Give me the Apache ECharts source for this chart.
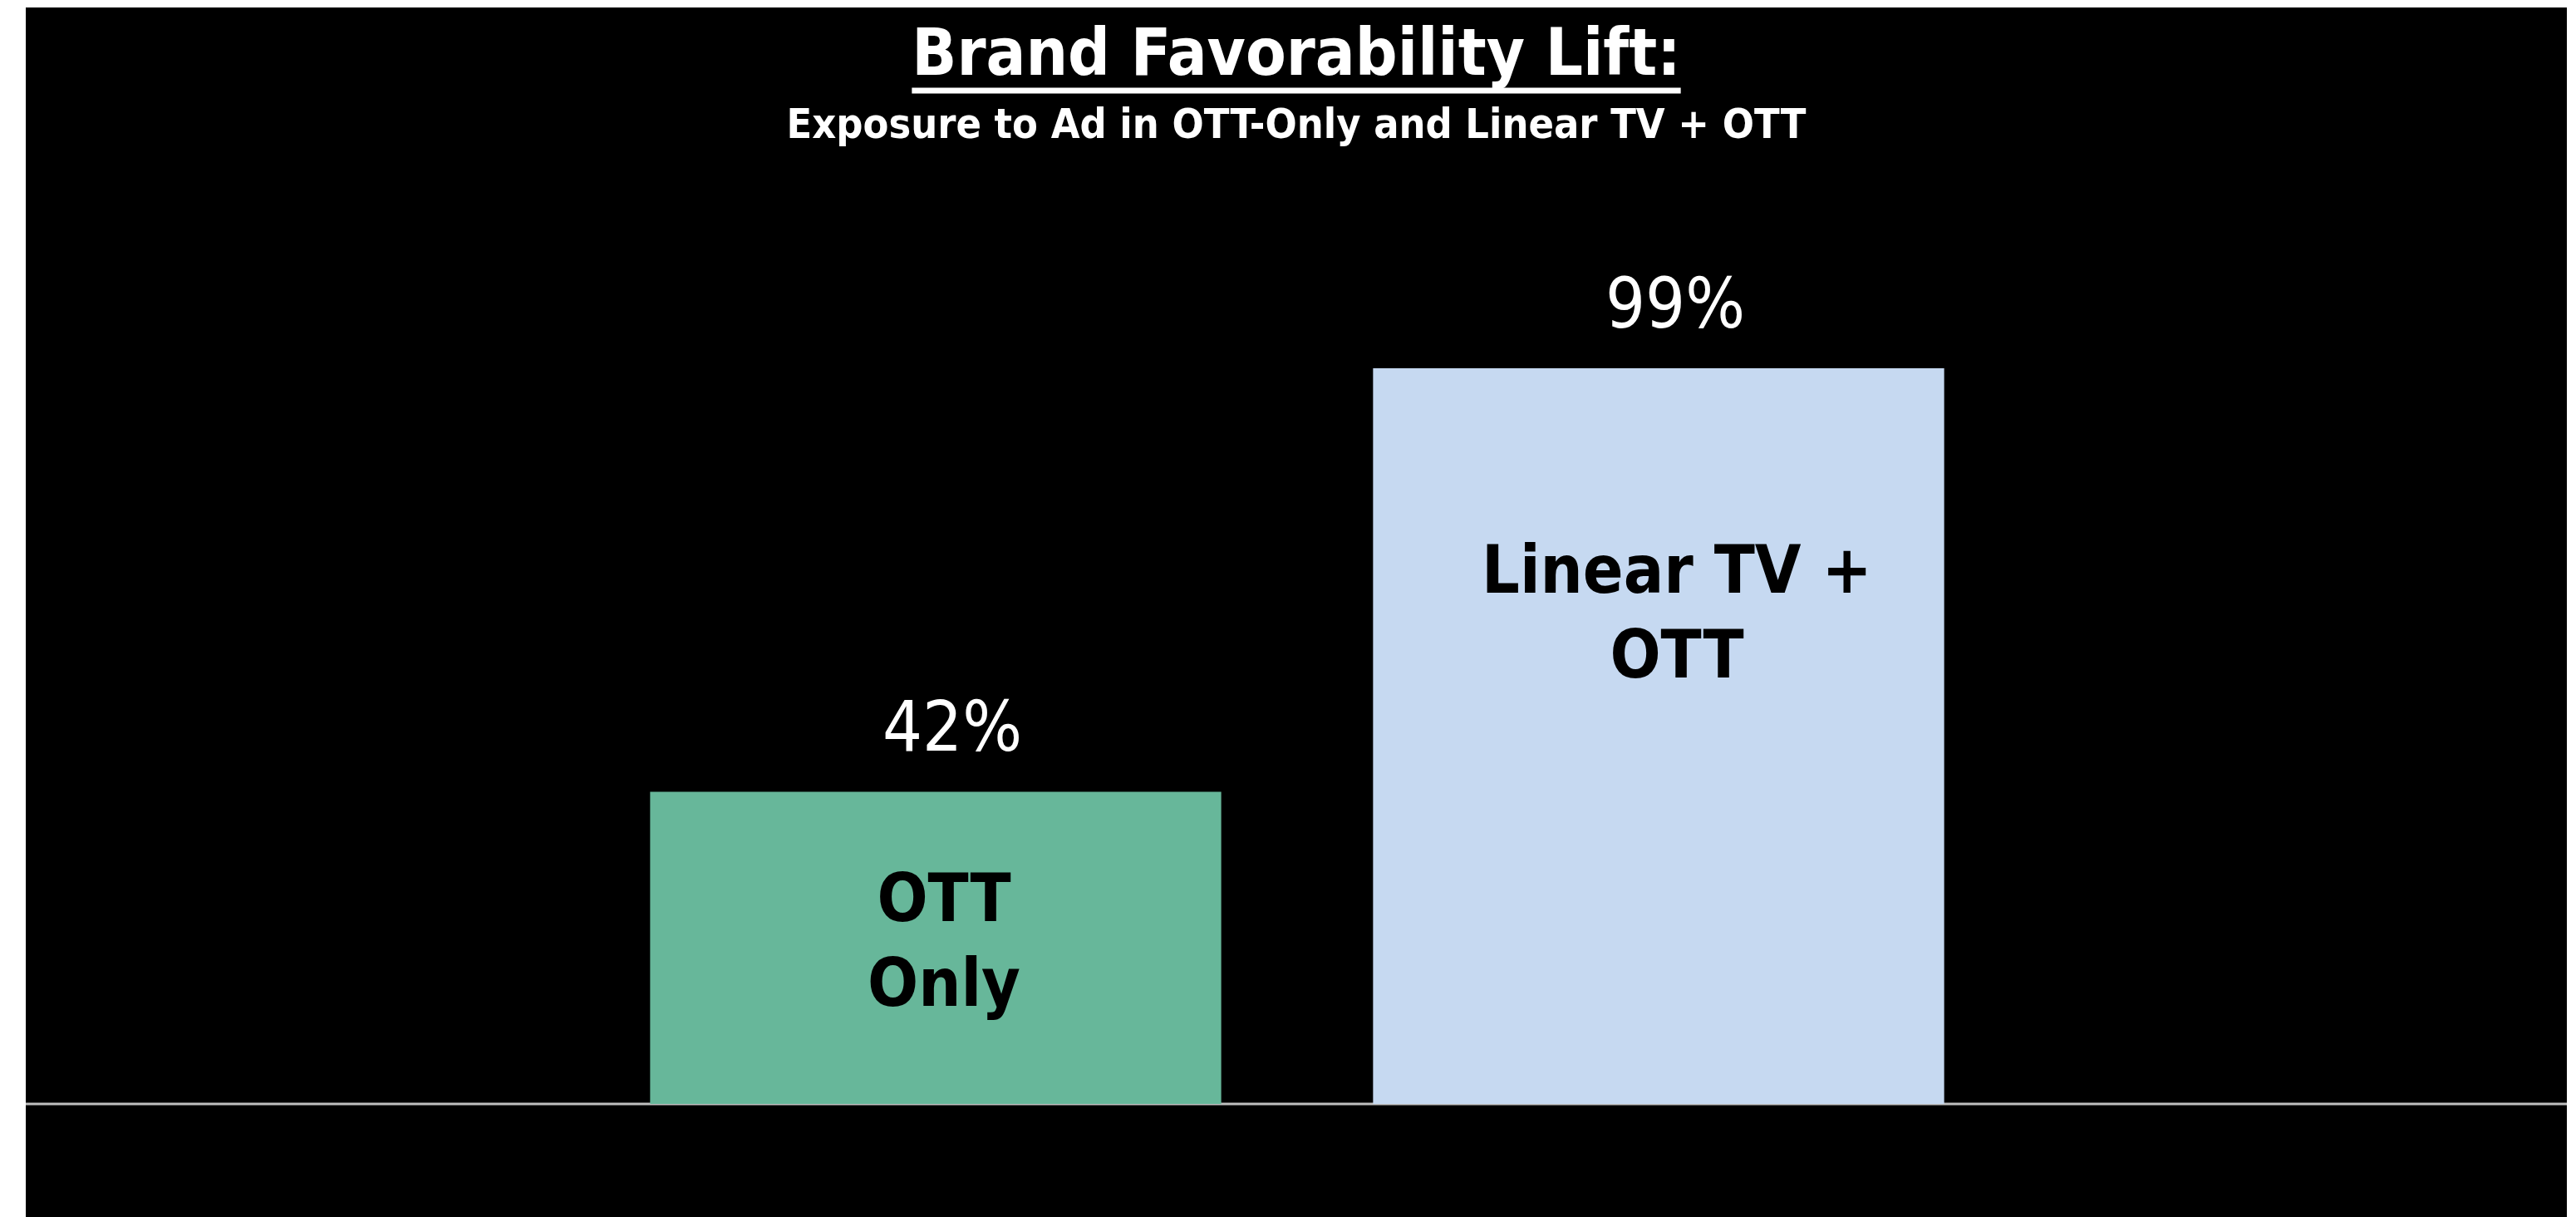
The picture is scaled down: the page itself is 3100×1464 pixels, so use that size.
<!DOCTYPE html>
<html>
<head>
<meta charset="utf-8">
<title>Brand Favorability Lift</title>
<script src="https://cdn.jsdelivr.net/npm/echarts@6/dist/echarts.min.js"></script>
<style>
  html, body { margin: 0; padding: 0; background: #fff; }
  #chart { position: absolute; left: 31px; top: 9px; width: 3058px; height: 1455px; }
</style>
</head>
<body>
<div id="chart"></div>
<script>
const titleText = 'Brand Favorability Lift:'
const subtitleText = 'Exposure to Ad in OTT-Only and Linear TV + OTT'
const categories = ['OTT Only', 'Linear TV + OTT']
const lift = [42, 99]
const barColors = ['#67B79A', '#C6D9F1']
// where the name sits inside each bar: px below the bar top, px right of centre
const nameDistance = [84, 198]
const nameShift = [10, 22]

const fontFamily = "'DejaVu Sans Condensed', 'DejaVu Sans', sans-serif"
const titleSize = 79

const chart = echarts.init(document.getElementById('chart'))

chart.setOption({
  backgroundColor: '#000',
  animation: false,
  title: {
    text: titleText,
    subtext: subtitleText,
    left: 'center',
    top: 16,
    itemGap: 19,
    textStyle: { color: '#fff', fontFamily, fontWeight: 'bold', fontSize: titleSize },
    subtextStyle: { color: '#fff', fontFamily, fontWeight: 'bold', fontSize: 50 }
  },
  grid: { left: 660, width: 1740, top: 425, height: 894 },
  xAxis: {
    type: 'category',
    data: categories,
    axisLine: { show: false },
    axisTick: { show: false },
    axisLabel: { show: false }
  },
  yAxis: {
    type: 'value',
    min: 0,
    max: 100,
    show: false,
    splitLine: { show: false }
  },
  series: [
    {
      // bars with the category name inside
      type: 'bar',
      barCategoryGap: '21%',
      data: lift.map((v, i) => ({
        value: v,
        itemStyle: { color: barColors[i] },
        label: { distance: nameDistance[i], offset: [nameShift[i], 0] }
      })),
      label: {
        show: true,
        position: 'insideTop',
        color: '#000',
        fontFamily,
        fontWeight: 'bold',
        fontSize: 80,
        lineHeight: 102,
        formatter: p => p.name === 'OTT Only' ? 'OTT\nOnly' : 'Linear TV +\nOTT'
      }
    },
    {
      // invisible twin that carries the value label above each bar
      type: 'bar',
      barGap: '-100%',
      barCategoryGap: '21%',
      silent: true,
      data: lift,
      itemStyle: { color: 'transparent' },
      label: {
        show: true,
        position: 'top',
        distance: 29,
        offset: [20, 0],
        color: '#fff',
        fontFamily,
        fontSize: 84,
        formatter: p => p.value + '%'
      }
    }
  ]
})

// baseline across the whole panel and the title underline
const baseY = chart.convertToPixel({ yAxisIndex: 0 }, 0)
const ctx = document.createElement('canvas').getContext('2d')
ctx.font = 'bold ' + titleSize + 'px ' + fontFamily
const tw = ctx.measureText(titleText).width
const cx = chart.getWidth() / 2

chart.setOption({
  graphic: [
    {
      type: 'line',
      shape: { x1: 0, y1: baseY, x2: chart.getWidth(), y2: baseY },
      style: { stroke: '#BFBFBF', lineWidth: 3 }
    },
    {
      type: 'line',
      shape: { x1: cx - tw / 2, y1: 100, x2: cx + tw / 2, y2: 100 },
      style: { stroke: '#fff', lineWidth: 7 }
    }
  ]
})
</script>
</body>
</html>
